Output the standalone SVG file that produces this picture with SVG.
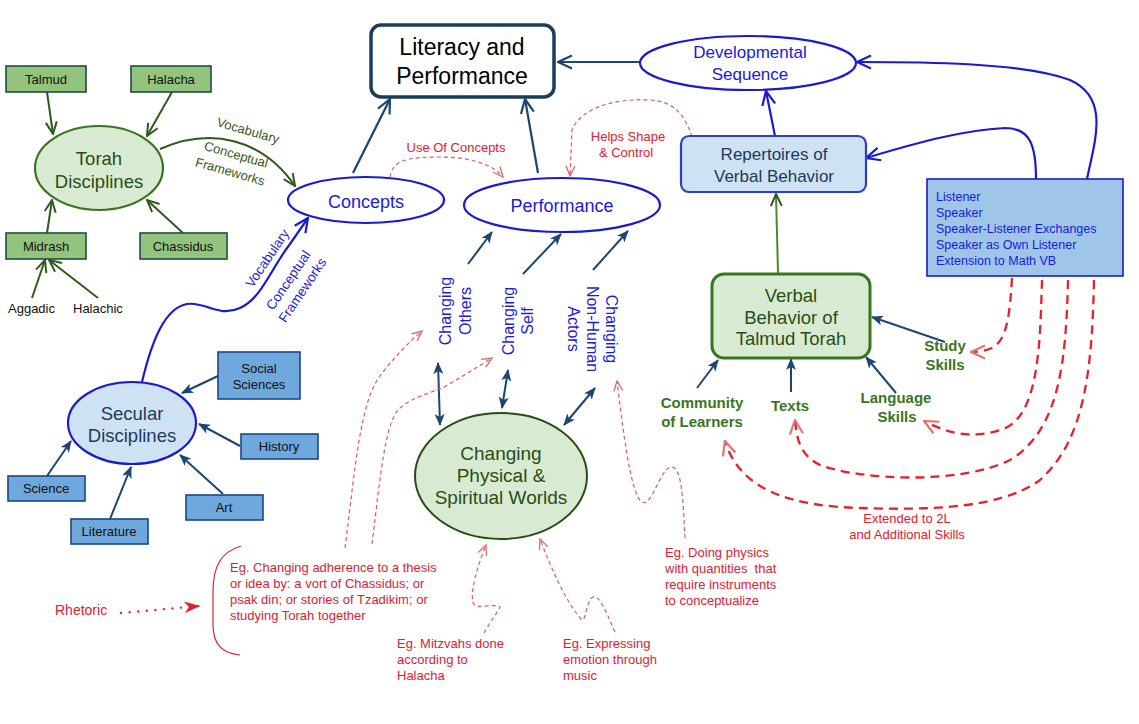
<svg xmlns="http://www.w3.org/2000/svg" width="1139" height="724" viewBox="0 0 1139 724">
<style>
text{font-family:"Liberation Sans",Arial,sans-serif}
.gbox{fill:#93c47d;stroke:#1f4d45;stroke-width:1.6}
.bbox{fill:#6fa8dc;stroke:#1c4587;stroke-width:1.6}
.bt{font-size:13px;fill:#111;text-anchor:middle}
.navy{fill:none;stroke:#1c4670;stroke-width:2}
.navyA{fill:none;stroke:#1c4670;stroke-width:2;marker-end:url(#fNavy)}
.greenA{fill:none;stroke:#2f5a1a;stroke-width:2;marker-end:url(#oGreen)}
.blueA{fill:none;stroke:#1a1ad0;stroke-width:2.2;marker-end:url(#oBlue)}
.bigNavyA{fill:none;stroke:#1c4670;stroke-width:2.2;marker-end:url(#oNavy)}
.thinRed{fill:none;stroke:#e05a5a;stroke-width:1.2;stroke-dasharray:4,3;marker-end:url(#oRedThin)}
.thickRed{fill:none;stroke:#e8202a;stroke-width:2.3;stroke-dasharray:9,6;marker-end:url(#oRed)}
.blueT{fill:#1a1ae0;text-anchor:middle}
.redT{fill:#e02030;font-size:13px}
.greenT{fill:#38761d;font-size:15px;font-weight:bold;text-anchor:middle}
</style>
<defs>
<marker id="fNavy" markerUnits="userSpaceOnUse" viewBox="0 0 12 10" markerWidth="12" markerHeight="10" refX="11" refY="5" orient="auto-start-reverse"><path d="M0,0 L12,5 L0,10 L3,5 z" fill="#1c4670"/></marker>
<marker id="oNavy" markerUnits="userSpaceOnUse" viewBox="0 0 16 16" markerWidth="16" markerHeight="16" refX="15" refY="8" orient="auto"><path d="M1,1.5 L15,8 L1,14.5" fill="none" stroke="#1c4670" stroke-width="2.2"/></marker>
<marker id="oBlue" markerUnits="userSpaceOnUse" viewBox="0 0 16 16" markerWidth="16" markerHeight="16" refX="15" refY="8" orient="auto"><path d="M1,1.5 L15,8 L1,14.5" fill="none" stroke="#1a1ad0" stroke-width="2.2"/></marker>
<marker id="oGreen" markerUnits="userSpaceOnUse" viewBox="0 0 14 14" markerWidth="14" markerHeight="14" refX="13" refY="7" orient="auto"><path d="M1,1.5 L13,7 L1,12.5" fill="none" stroke="#2f5a1a" stroke-width="2"/></marker>
<marker id="oRed" markerUnits="userSpaceOnUse" viewBox="0 0 16 16" markerWidth="16" markerHeight="16" refX="15" refY="8" orient="auto"><path d="M1,1.5 L15,8 L1,14.5" fill="none" stroke="#e57373" stroke-width="2.2"/></marker>
<marker id="oRedThin" markerUnits="userSpaceOnUse" viewBox="0 0 12 12" markerWidth="12" markerHeight="12" refX="11" refY="6" orient="auto"><path d="M1,1.5 L11,6 L1,10.5" fill="none" stroke="#e06666" stroke-width="1.3"/></marker>
<marker id="fRed" markerUnits="userSpaceOnUse" viewBox="0 0 16 12" markerWidth="16" markerHeight="12" refX="15" refY="6" orient="auto"><path d="M0,0 L16,6 L0,12 L5,6 z" fill="#e02030"/></marker>
</defs>

<g id="connectors">
  <!-- Torah cluster -->
  <path class="greenA" d="M47,92 L53,134"/>
  <path class="greenA" d="M172,92 L147,136"/>
  <path class="greenA" d="M47,233 L52,200"/>
  <path class="greenA" d="M183,233 L147,200"/>
  <path class="greenA" d="M32,298 L45,260"/>
  <path class="greenA" d="M98,298 L49,260"/>
  <path class="greenA" d="M160,149 C210,127 262,138 295,186"/>
  <!-- Secular cluster -->
  <path class="navyA" d="M218,376 L182,393"/>
  <path class="navyA" d="M240,446 L199,424"/>
  <path class="navyA" d="M223,494 L180,455"/>
  <path class="navyA" d="M110,519 L131,467"/>
  <path class="navyA" d="M47,476 L71,441"/>
  <path class="blueA" d="M142,382 C152,340 165,308 187,304 C205,301 218,318 240,308 C262,298 270,270 290,244 L308,218"/>
  <!-- Top -->
  <path class="bigNavyA" d="M353,173 L390,99"/>
  <path class="bigNavyA" d="M538,173 L525,99"/>
  <path class="bigNavyA" d="M640,62 L558,62"/>
  <path class="blueA" d="M775,136 L766,91"/>
  <path class="blueA" d="M1036,179 C1036,145 1030,128 1005,128 C960,130 910,145 866,158"/>
  <path class="blueA" d="M1087,179 C1095,140 1110,98 1070,80 C1020,62 920,62 857,62"/>
  <path class="greenA" d="M778,273 L776,194" style="stroke:#4a8a2a"/>
  <!-- Changing arrows -->
  <path class="navyA" d="M468,264 L492,232"/>
  <path class="navyA" d="M523,274 L561,234"/>
  <path class="navyA" d="M593,270 L628,231"/>
  <path class="navyA" d="M438,363 L440,425" style="marker-start:url(#fNavy)"/>
  <path class="navyA" d="M508,370 L502,408" style="marker-start:url(#fNavy)"/>
  <path class="navyA" d="M595,388 L564,425" style="marker-start:url(#fNavy)"/>
  <!-- VBTT arrows -->
  <path class="navyA" d="M945,342 L872,317"/>
  <path class="navyA" d="M896,393 L866,357"/>
  <path class="navyA" d="M791,392 L791,359"/>
  <path class="navyA" d="M697,388 L718,360"/>
  <!-- thin red dotted -->
  <path class="thinRed" d="M390,177 C393,162 402,157 440,157 C470,157 492,164 503,177"/>
  <path class="thinRed" d="M692,137 C686,118 676,101 650,100 C610,98 580,110 572,130 L570,176"/>
  <path class="thinRed" d="M345,548 C355,470 360,402 380,376 C395,356 410,341 422,331"/>
  <path class="thinRed" d="M372,544 C380,480 385,420 400,408 C414,396 430,394 448,385 L492,358"/>
  <path class="thinRed" d="M685,538 C683,500 682,466 671,467 C660,468 652,508 642,502 C630,495 622,420 617,381"/>
  <path class="thinRed" d="M484,633 C490,622 498,612 500,607 C492,603 476,610 473,603 C470,590 478,565 486,545"/>
  <path class="thinRed" d="M615,632 C606,612 600,595 593,597 C586,600 586,625 581,619 C565,600 552,570 540,539"/>
  <!-- thick red dashed -->
  <path class="thickRed" d="M1012,278 C1010,310 1008,340 992,348 C985,351 978,352 971,352"/>
  <path class="thickRed" d="M1042,280 C1040,340 1040,420 1000,430 C970,440 945,432 924,421"/>
  <path class="thickRed" d="M1068,280 C1066,360 1060,430 1010,460 C960,485 860,480 820,465 C800,455 797,440 795,420"/>
  <path class="thickRed" d="M1094,280 C1092,370 1085,440 1040,480 C1000,510 920,510 860,508 C790,506 740,490 725,441"/>
  <!-- Rhetoric -->
  <path d="M121,613 L199,606" fill="none" stroke="#e02030" stroke-width="2.4" stroke-linecap="round" stroke-dasharray="0.1,8.5" style="marker-end:url(#fRed)"/>
  <path d="M241,546 C221,552 213,566 213,592 L213,624 C213,645 222,653 240,655" fill="none" stroke="#e02030" stroke-width="1.2"/>
  <!-- connector labels -->
  <text x="248" y="135" transform="rotate(16 248 131)" style="fill:#38561d;font-size:13px;text-anchor:middle">Vocabulary</text>
  <text x="236" y="159" transform="rotate(16 236 155)" style="fill:#38561d;font-size:13px;text-anchor:middle">Conceptual</text>
  <text x="230" y="176" transform="rotate(16 230 172)" style="fill:#38561d;font-size:13px;text-anchor:middle">Frameworks</text>
  <text x="267" y="263" transform="rotate(-56 267 258)" class="blueT" style="font-size:13.5px">Vocabulary</text>
  <text x="288" y="285" transform="rotate(-56 288 280)" class="blueT" style="font-size:13.5px">Conceptual</text>
  <text x="302" y="295" transform="rotate(-56 302 290)" class="blueT" style="font-size:13.5px">Frameworks</text>
  <text x="456" y="152" class="redT" style="text-anchor:middle">Use Of Concepts</text>
  <text x="628" y="141" class="redT" style="text-anchor:middle">Helps Shape</text>
  <text x="626" y="157" class="redT" style="text-anchor:middle">&amp; Control</text>
  <text x="907" y="523" class="redT" style="text-anchor:middle">Extended to 2L</text>
  <text x="907" y="539" class="redT" style="text-anchor:middle">and Additional Skills</text>
</g>

<g id="talmud"><rect class="gbox" x="6" y="66" width="80" height="26"/><text class="bt" x="46" y="84">Talmud</text></g>
<g id="halacha"><rect class="gbox" x="131" y="66" width="80" height="26"/><text class="bt" x="171" y="84">Halacha</text></g>
<g id="midrash"><rect class="gbox" x="6" y="233" width="80" height="26"/><text class="bt" x="46" y="251">Midrash</text></g>
<g id="chassidus"><rect class="gbox" x="140" y="233" width="87" height="26"/><text class="bt" x="183" y="251">Chassidus</text></g>
<g id="aggadic"><text x="8" y="313" style="font-size:13px;fill:#111">Aggadic</text></g>
<g id="halachic"><text x="73" y="313" style="font-size:13px;fill:#111">Halachic</text></g>
<g id="torah"><ellipse cx="99" cy="168" rx="64" ry="42" fill="#d9ead3" stroke="#38761d" stroke-width="2.2"/>
<text x="99" y="165" style="font-size:18.5px;fill:#274e13;text-anchor:middle">Torah</text>
<text x="99" y="188" style="font-size:18.5px;fill:#274e13;text-anchor:middle">Disciplines</text></g>

<g id="secular"><ellipse cx="132" cy="423" rx="64" ry="41" fill="#cfe2f3" stroke="#1a1ad0" stroke-width="2.2"/>
<text x="132" y="420" style="font-size:18.5px;fill:#1c3b5a;text-anchor:middle">Secular</text>
<text x="132" y="442" style="font-size:18.5px;fill:#1c3b5a;text-anchor:middle">Disciplines</text></g>
<g id="social"><rect class="bbox" x="218" y="352" width="82" height="47"/><text class="bt" x="259" y="373">Social</text><text class="bt" x="259" y="389">Sciences</text></g>
<g id="history"><rect class="bbox" x="241" y="434" width="77" height="25"/><text class="bt" x="279" y="451">History</text></g>
<g id="science"><rect class="bbox" x="8" y="476" width="77" height="25"/><text class="bt" x="46" y="493">Science</text></g>
<g id="literature"><rect class="bbox" x="71" y="519" width="77" height="25"/><text class="bt" x="109" y="536">Literature</text></g>
<g id="art"><rect class="bbox" x="186" y="495" width="77" height="25"/><text class="bt" x="224" y="512">Art</text></g>

<g id="literacy"><rect x="371" y="25" width="183" height="72" rx="10" fill="#fff" stroke="#1c3d5a" stroke-width="3.5"/>
<text x="462" y="55" style="font-size:23px;fill:#000;text-anchor:middle">Literacy and</text>
<text x="462" y="84" style="font-size:23px;fill:#000;text-anchor:middle">Performance</text></g>
<g id="concepts"><ellipse cx="366" cy="200" rx="78" ry="23" fill="#fff" stroke="#1a1ad0" stroke-width="2.2"/>
<text x="366" y="208" class="blueT" style="font-size:18px">Concepts</text></g>
<g id="performance"><ellipse cx="562" cy="205" rx="98" ry="27" fill="#fff" stroke="#1a1ad0" stroke-width="2.2"/>
<text x="562" y="212" class="blueT" style="font-size:18px">Performance</text></g>
<g id="developmental"><ellipse cx="748" cy="63" rx="108" ry="27" fill="#fff" stroke="#1a1ad0" stroke-width="2.2"/>
<text x="750" y="58" class="blueT" style="font-size:17px">Developmental</text>
<text x="750" y="80" class="blueT" style="font-size:17px">Sequence</text></g>
<g id="repertoires"><rect x="681" y="136" width="185" height="56" rx="8" fill="#cfe2f3" stroke="#2a3fd0" stroke-width="2.2"/>
<text x="774" y="160" style="font-size:17px;fill:#1c3b5a;text-anchor:middle">Repertoires of</text>
<text x="774" y="182" style="font-size:17px;fill:#1c3b5a;text-anchor:middle">Verbal Behavior</text></g>
<g id="listener"><rect x="927" y="179" width="196" height="97" fill="#9fc5e8" stroke="#1a1ad0" stroke-width="1.6"/>
<text x="936" y="201" style="font-size:12.5px;fill:#1a1ae0">Listener</text>
<text x="936" y="217" style="font-size:12.5px;fill:#1a1ae0">Speaker</text>
<text x="936" y="233" style="font-size:12.5px;fill:#1a1ae0">Speaker-Listener Exchanges</text>
<text x="936" y="249" style="font-size:12.5px;fill:#1a1ae0">Speaker as Own Listener</text>
<text x="936" y="265" style="font-size:12.5px;fill:#1a1ae0">Extension to Math VB</text></g>

<g id="vbtt"><rect x="712" y="274" width="158" height="84" rx="12" fill="#d9ead3" stroke="#38761d" stroke-width="3"/>
<text x="791" y="302" style="font-size:18.5px;fill:#274e13;text-anchor:middle">Verbal</text>
<text x="791" y="324" style="font-size:18.5px;fill:#274e13;text-anchor:middle">Behavior of</text>
<text x="791" y="345" style="font-size:18.5px;fill:#274e13;text-anchor:middle">Talmud Torah</text></g>
<g id="study"><text x="945" y="351" class="greenT">Study</text><text x="945" y="370" class="greenT">Skills</text></g>
<g id="language"><text x="896" y="403" class="greenT">Language</text><text x="897" y="422" class="greenT">Skills</text></g>
<g id="texts"><text x="790" y="411" class="greenT">Texts</text></g>
<g id="community"><text x="702" y="408" class="greenT">Community</text><text x="702" y="427" class="greenT">of Learners</text></g>

<g id="changing-others"><text transform="translate(455,311) rotate(-90)" class="blueT" style="font-size:16px"><tspan x="0" y="-4">Changing</tspan><tspan x="0" y="16">Others</tspan></text></g>
<g id="changing-self"><text transform="translate(517,321) rotate(-90)" class="blueT" style="font-size:16px"><tspan x="0" y="-3">Changing</tspan><tspan x="0" y="16">Self</tspan></text></g>
<g id="changing-nonhuman"><text transform="translate(593,329) rotate(90)" class="blueT" style="font-size:16px"><tspan x="0" y="-13">Changing</tspan><tspan x="0" y="6">Non-Human</tspan><tspan x="0" y="25">Actors</tspan></text></g>
<g id="worlds"><ellipse cx="501" cy="476" rx="86" ry="63" fill="#d9ead3" stroke="#274e13" stroke-width="2"/>
<text x="501" y="460" style="font-size:19px;fill:#274e13;text-anchor:middle">Changing</text>
<text x="501" y="482" style="font-size:19px;fill:#274e13;text-anchor:middle">Physical &amp;</text>
<text x="501" y="504" style="font-size:19px;fill:#274e13;text-anchor:middle">Spiritual Worlds</text></g>

<g id="rhetoric"><text x="55" y="615" style="font-size:14px;fill:#e02030">Rhetoric</text></g>
<g id="eg-adherence"><text class="redT" x="230" y="572">Eg. Changing adherence to a thesis</text>
<text class="redT" x="230" y="588">or idea by: a vort of Chassidus; or</text>
<text class="redT" x="230" y="604">psak din; or stories of Tzadikim; or</text>
<text class="redT" x="230" y="620">studying Torah together</text></g>
<g id="eg-mitzvahs"><text class="redT" x="397" y="648">Eg. Mitzvahs done</text>
<text class="redT" x="397" y="664">according to</text>
<text class="redT" x="397" y="680">Halacha</text></g>
<g id="eg-expressing"><text class="redT" x="563" y="648">Eg. Expressing</text>
<text class="redT" x="563" y="664">emotion through</text>
<text class="redT" x="563" y="680">music</text></g>
<g id="eg-physics"><text class="redT" x="665" y="557">Eg. Doing physics</text>
<text class="redT" x="665" y="573" xml:space="preserve">with quantities  that</text>
<text class="redT" x="665" y="589">require instruments</text>
<text class="redT" x="665" y="605">to conceptualize</text></g>
</svg>
